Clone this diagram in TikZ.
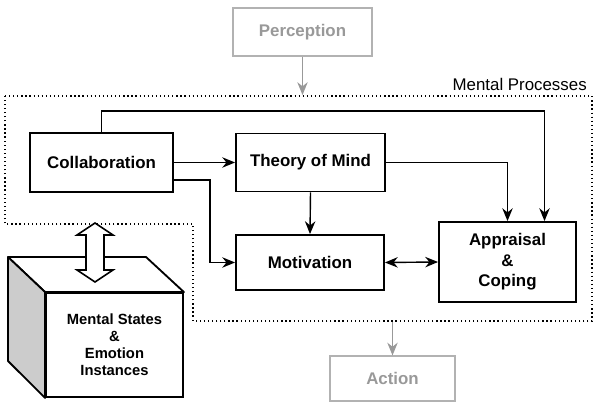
\documentclass[tikz,border=0pt]{standalone}
\usepackage{fontspec}
\setmainfont{Liberation Sans}
\usetikzlibrary{positioning,arrows.meta,calc}

\begin{document}
\begin{tikzpicture}[
  x=0.025cm, y=-0.025cm,
  proc/.style={draw, line width=1.3pt, fill=white, align=center, font=\bfseries\fontsize{12}{14.5}\selectfont, inner sep=2pt},
  io/.style={draw=black!30, line width=0.8pt, text=black!40, align=center, font=\bfseries\fontsize{12}{14.5}\selectfont},
  conn/.style={-{Stealth[length=3.2mm,width=2.6mm]}, line width=1pt},
  ioconn/.style={-{Stealth[length=3.2mm,width=2.6mm]}, line width=0.8pt, black!40}
]
\useasboundingbox (0,0) rectangle (600,419);

% Mental processes region
\draw[dotted, line width=0.9pt] (5,96) -- (592,96) -- (592,321) -- (193,321) -- (193,224) -- (5,224) -- cycle;
\node[anchor=east, inner sep=0pt, font=\fontsize{12}{14}\selectfont] (mplabel) at (587,84) {Mental Processes};
\coordinate (mptop) at (302.5,95);
\coordinate (mpbot) at (392.5,322);

% Input / output
\node[io, minimum width=3.475cm, minimum height=1.2cm] (percept) at (302.5,32) {Perception};
\node[io, minimum width=3.125cm, minimum height=1.125cm] (action) at (392.5,378.5) {Action};

% Processes
\node[proc, minimum width=3.575cm, minimum height=1.475cm] (collab)  at (101.5,162.5) {Collaboration};
\node[proc, minimum width=3.725cm, minimum height=1.45cm]  (tom)     at (310.5,162.5) {Theory of Mind};
\node[proc, minimum width=3.7cm,   minimum height=1.375cm] (motiv)   at (310,262.5)   {Motivation};
\node[proc, minimum width=3.425cm, minimum height=2cm]     (apprais) at (507.5,262)   {Appraisal\\\&\\Coping};

% Store of mental states (cube)
\node[proc, minimum width=3.425cm, minimum height=2.6cm, font=\bfseries\fontsize{10.5}{12}\selectfont] (mstore) at (114.5,345)
  {Mental States\\\&\\Emotion\\Instances};
\draw[line width=1.3pt, fill=white, line join=round] (mstore.north west) -- ++(-37,-35) -- ++(138,0) -- (mstore.north east) -- cycle;
\draw[line width=1.3pt, fill=black!20, line join=round] (mstore.north west) -- ++(-37,-35) -- ++(0,104) -- (mstore.south west) -- cycle;

% Exchange with the store
\coordinate (xchg) at (95,252.5);
\draw[line width=1.1pt, fill=white] ($(xchg)+(0,-29.5)$) -- ++(18,12) -- ++(-9,0) -- ++(0,35) -- ++(9,0)
  -- ++(-18,12) -- ++(-18,-12) -- ++(9,0) -- ++(0,-35) -- ++(-9,0) -- cycle;

% Connectors
\draw[ioconn] (percept.south) -- (mptop);
\draw[ioconn] (mpbot) -- (action.north);
\draw[conn] (collab.east) -- (tom.west);
\draw[conn] ([yshift=-0.44cm]collab.east) -- ++(0.9cm,0) |- (motiv.west);
\draw[conn] (collab.north) -- ++(0,-21) -| ([xshift=0.925cm]apprais.north);
\draw[conn] (tom.east) -| (apprais.north);
\draw[conn] (tom.south) -- (motiv.north);
\draw[conn, {Stealth[length=3.2mm,width=2.6mm]}-{Stealth[length=3.2mm,width=2.6mm]}] (motiv.east) -- (apprais.west);

\end{tikzpicture}
\end{document}
